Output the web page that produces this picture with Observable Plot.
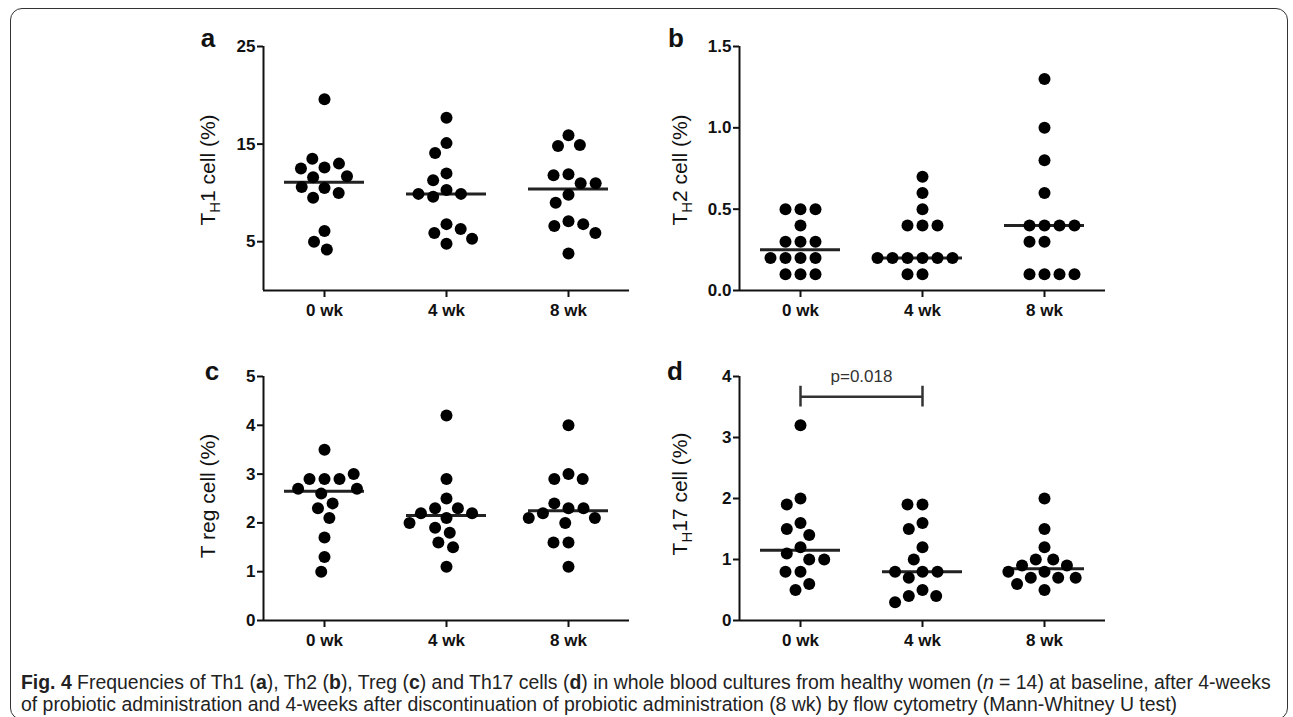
<!DOCTYPE html>
<html>
<head>
<meta charset="utf-8">
<script src="https://cdn.jsdelivr.net/npm/d3@7"></script>
<script src="https://cdn.jsdelivr.net/npm/@observablehq/plot@0.6"></script>
<style>
html, body { margin: 0; padding: 0; background: #fff; }
#page { position: relative; width: 1293px; height: 717px; overflow: hidden; font-family: "Liberation Sans", Arial, sans-serif; }
.frame { position: absolute; left: 10px; top: 8px; width: 1278px; height: 712px; border: 1.5px solid #333; border-radius: 12px; box-sizing: border-box; }
.panel { position: absolute; }
#overlay { position: absolute; left: 0; top: 0; pointer-events: none; }
#caption { position: absolute; left: 21px; top: 671px; color: #222; line-height: 22px; white-space: nowrap; }
#caption .cl { display: block; }
#cap1 { display: inline-block; }
</style>
</head>
<body>
<div id="page">
  <div class="frame"></div>
  <div id="pa" class="panel" style="left:215px; top:30px;"></div>
  <div id="pb" class="panel" style="left:691px; top:30px;"></div>
  <div id="pc" class="panel" style="left:215px; top:360px;"></div>
  <div id="pd" class="panel" style="left:691px; top:360px;"></div>
  <svg id="overlay" width="1293" height="717" font-family="Liberation Sans, Arial, sans-serif" fill="#111">
    <text x="208" y="47" font-size="26" font-weight="bold" text-anchor="middle">a</text>
    <text x="676" y="47" font-size="26" font-weight="bold" text-anchor="middle">b</text>
    <text x="212" y="380" font-size="26" font-weight="bold" text-anchor="middle">c</text>
    <text x="675" y="380" font-size="26" font-weight="bold" text-anchor="middle">d</text>
    <text transform="translate(215,170) rotate(-90)" font-size="21" text-anchor="middle">T<tspan font-size="15" dy="5">H</tspan><tspan dy="-5">1 cell (%)</tspan></text>
    <text transform="translate(687,170) rotate(-90)" font-size="21" text-anchor="middle">T<tspan font-size="15" dy="5">H</tspan><tspan dy="-5">2 cell (%)</tspan></text>
    <text transform="translate(215,496) rotate(-90)" font-size="21" text-anchor="middle">T reg cell (%)</text>
    <text transform="translate(687,494) rotate(-90)" font-size="21" text-anchor="middle">T<tspan font-size="15" dy="5">H</tspan><tspan dy="-5">17 cell (%)</tspan></text>
  </svg>
  <div id="caption">
    <span id="cap1"><b>Fig. 4</b> Frequencies of Th1 (<b>a</b>), Th2 (<b>b</b>), Treg (<b>c</b>) and Th17 cells (<b>d</b>) in whole blood cultures from healthy women (<i>n</i> = 14) at baseline, after 4-weeks</span>
    <span class="cl">of probiotic administration and 4-weeks after discontinuation of probiotic administration (8 wk) by flow cytometry (Mann-Whitney U test)</span>
  </div>
</div>
<script>
// ---- data ----
const times = ["0 wk", "4 wk", "8 wk"];

const th1Wk0 = [19.6, 12.6, 13.5, 13.0, 12.5, 11.6, 11.7, 10.5, 10.6, 10.0, 9.5, 6.1, 5.0, 4.2];
const th1Wk4 = [17.7, 15.1, 14.1, 12.0, 11.3, 10.3, 9.9, 9.6, 9.9, 6.8, 5.9, 6.3, 5.3, 4.8];
const th1Wk8 = [15.9, 14.8, 14.9, 11.9, 11.8, 11.0, 11.0, 9.8, 9.0, 7.1, 6.6, 6.8, 5.9, 3.8];

const th2Wk0 = [0.5, 0.5, 0.5, 0.4, 0.3, 0.3, 0.3, 0.2, 0.2, 0.2, 0.2, 0.1, 0.1, 0.1];
const th2Wk4 = [0.7, 0.6, 0.5, 0.4, 0.4, 0.4, 0.2, 0.2, 0.2, 0.2, 0.2, 0.2, 0.1, 0.1];
const th2Wk8 = [1.3, 1.0, 0.8, 0.6, 0.4, 0.4, 0.4, 0.4, 0.3, 0.3, 0.1, 0.1, 0.1, 0.1];

const tregWk0 = [3.5, 2.9, 2.9, 2.9, 3.0, 2.7, 2.7, 2.6, 2.4, 2.3, 2.1, 1.7, 1.3, 1.0];
const tregWk4 = [4.2, 2.9, 2.5, 2.3, 2.3, 2.2, 2.2, 2.1, 2.0, 1.9, 1.8, 1.6, 1.5, 1.1];
const tregWk8 = [4.0, 3.0, 2.9, 2.9, 2.3, 2.4, 2.3, 2.2, 2.1, 2.0, 2.1, 1.6, 1.6, 1.1];

const th17Wk0 = [3.2, 2.0, 1.9, 1.6, 1.5, 1.4, 1.2, 1.1, 1.0, 1.0, 0.8, 0.8, 0.6, 0.5];
const th17Wk4 = [1.9, 1.9, 1.6, 1.5, 1.2, 1.0, 0.8, 0.8, 0.7, 0.8, 0.5, 0.4, 0.4, 0.3];
const th17Wk8 = [2.0, 1.5, 1.2, 1.0, 1.0, 0.9, 0.9, 0.8, 0.8, 0.7, 0.7, 0.7, 0.6, 0.5];

const th1Ticks = [5, 15, 25];
const th2Ticks = [0, 0.5, 1.0, 1.5];
const tregTicks = [0, 1, 2, 3, 4, 5];
const th17Ticks = [0, 1, 2, 3, 4];

const th1Domain = [0, 25];
const th2Domain = [0, 1.5];
const tregDomain = [0, 5];
const th17Domain = [0, 4];

// significance annotation (panel d)
const pGroups = ["0 wk", "4 wk"];
const pLabel = "p=0.018";
const pBracketY = 3.67;
const pBracketHalf = 0.17;
const pTextY = 4.0;

// ---- drawing ----
const INK = "#111";
const FONT = "Liberation Sans, Arial, sans-serif";

function panel(target, series, domain, ticks, tickFormat, extra = []) {
  const data = times.flatMap((t, i) => series[i].map(v => ({time: t, value: v})));
  const medians = times.map((t, i) => ({time: t, value: d3.median(series[i])}));
  const chart = Plot.plot({
    width: 424,
    height: 300,
    marginLeft: 47,
    marginRight: 10,
    marginTop: 16,
    marginBottom: 40,
    fx: {domain: times, padding: 0, label: null},
    x: {domain: [0, 1], axis: null},
    y: {domain, label: null},
    style: {fontFamily: FONT, color: INK, background: "transparent", overflow: "visible"},
    marks: [
      Plot.ruleY([0], {stroke: INK, strokeWidth: 2}),
      Plot.ruleX([{time: times[0]}], {fx: "time", x: () => 0, stroke: INK, strokeWidth: 2}),
      Plot.axisY({ticks, tickFormat, tickSize: 6, tickPadding: 2, fontSize: 17, fontWeight: "bold", label: null, strokeWidth: 2, stroke: INK}),
      Plot.axisFx({anchor: "bottom", tickSize: 7, tickPadding: 6, fontSize: 17, fontWeight: "bold", label: null, strokeWidth: 2, stroke: INK}),
      Plot.ruleY(medians, {fx: "time", y: "value", insetLeft: 21, insetRight: 21, stroke: "#222", strokeWidth: 3}),
      Plot.dot(data, Plot.dodgeX({anchor: "middle", padding: 3}, {fx: "time", y: "value", r: 6, fill: "#000"})),
      ...extra
    ]
  });
  document.getElementById(target).appendChild(chart);
}

const fmtInt = d3.format("d");
const fmt1 = d3.format(".1f");

panel("pa", [th1Wk0, th1Wk4, th1Wk8], th1Domain, th1Ticks, fmtInt);
panel("pb", [th2Wk0, th2Wk4, th2Wk8], th2Domain, th2Ticks, fmt1);
panel("pc", [tregWk0, tregWk4, tregWk8], tregDomain, tregTicks, fmtInt);

const i1 = times.indexOf(pGroups[0]) + 0.5;
const i2 = times.indexOf(pGroups[1]) + 0.5;
const anchorRow = [{time: times[0]}];
panel("pd", [th17Wk0, th17Wk4, th17Wk8], th17Domain, th17Ticks, fmtInt, [
  Plot.link(anchorRow, {fx: "time", x1: () => i1, x2: () => i2, y1: () => pBracketY, y2: () => pBracketY, stroke: "#333", strokeWidth: 2.5}),
  Plot.ruleX([i1, i2].map(x => ({time: times[0], x})), {fx: "time", x: "x", y1: () => pBracketY - pBracketHalf, y2: () => pBracketY + pBracketHalf, stroke: "#333", strokeWidth: 2.5}),
  Plot.text(anchorRow, {fx: "time", x: () => (i1 + i2) / 2, y: () => pTextY, text: () => pLabel, fontSize: 17, fill: "#333", fontWeight: "normal"})
]);

// fit caption first line to reference width
const cap1 = document.getElementById("cap1");
const caption = document.getElementById("caption");
caption.style.fontSize = "17px";
const w = cap1.getBoundingClientRect().width;
caption.style.fontSize = (17 * 1250 / w).toFixed(2) + "px";
</script>
</body>
</html>
